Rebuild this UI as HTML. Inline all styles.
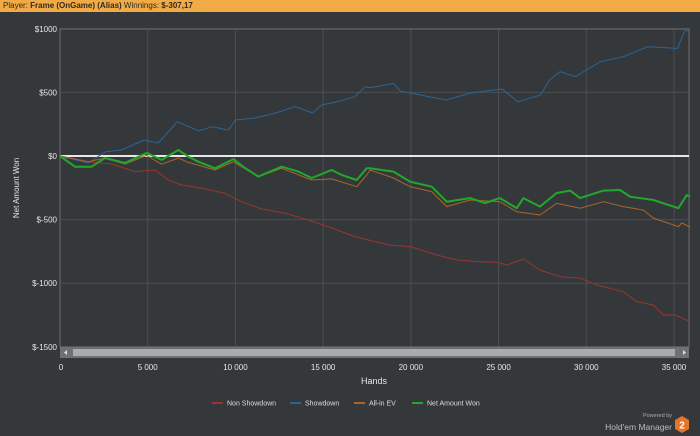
<!DOCTYPE html>
<html><head><meta charset="utf-8"><style>
body{margin:0;width:700px;height:436px;background:#35383b;overflow:hidden;font-family:"Liberation Sans",sans-serif}
#hdr{position:absolute;left:0;top:0;width:700px;height:12px;background:#f2aa44;font-size:8px;line-height:12px;color:#2a2a2a;padding-left:3px;box-sizing:border-box}
</style></head><body>
<div id="hdr">Player: <b>Frame (OnGame) (Alias)</b> Winnings: <b>$-307,17</b></div>
<svg id="c" width="700" height="436" style="position:absolute;left:0;top:0"></svg>
<script>
const yTicks=[1000,500,0,-500,-1000,-1500];
const yTickLabels=["$1000","$500","$0","$-500","$-1000","$-1500"];
const xTicks=[0,5000,10000,15000,20000,25000,30000,35000];
const xTickLabels=["0","5 000","10 000","15 000","20 000","25 000","30 000","35 000"];
const seriesNames=["Non Showdown","Showdown","All-in EV","Net Amount Won"];
const seriesColors=["#9a3430","#2a6494","#a8652c","#22a82a"];
const showdownHands=[0,1600,2600,3500,4800,5600,6700,7900,8700,9600,10000,11100,12300,13400,14400,14900,15800,16800,17400,17700,19000,19400,20500,22000,23400,25200,26100,27400,27900,28500,29400,30000,30800,32100,33500,35200,35600,35900];
const showdownVals=[0,-55,34,47,126,102,270,197,230,204,283,299,338,388,338,401,427,466,545,537,571,511,480,440,495,527,427,480,597,663,624,676,741,780,859,846,982,990];
const netHands=[0,855,1800,2565,3700,4940,5800,6745,7315,7885,8835,9880,10545,11305,12640,13590,14350,15490,16060,16915,17485,17673,19003,19954,21189,22044,23374,24229,25084,26034,26414,27364,28315,29075,29645,30975,31926,32496,33826,35251,35726,35916];
const netVals=[0,-84,-84,-16,-55,24,-31,47,-5,-45,-97,-24,-94,-162,-84,-123,-173,-110,-149,-189,-97,-97,-123,-202,-241,-359,-331,-370,-331,-410,-331,-398,-291,-272,-331,-272,-267,-320,-346,-410,-307,-320];
const allinHands=[0,1615,2565,3700,4940,5800,6745,7315,8835,9880,11305,12640,14350,15490,16915,17485,17673,19003,19954,21189,22044,23374,25084,26034,27364,28315,29645,30975,32116,33256,33826,35251,35441,35916];
const allinVals=[0,-45,-16,-63,5,-65,-16,-50,-110,-45,-162,-97,-189,-180,-241,-149,-110,-173,-241,-280,-398,-346,-359,-438,-464,-372,-410,-359,-398,-425,-488,-555,-527,-558];
const nonsdHands=[0,1615,2945,4275,5415,6175,6935,8075,9405,10360,11500,12830,14160,15490,16820,17960,18813,19954,21474,22614,23944,24894,25464,26414,27364,28505,29645,30595,32116,32876,33826,34396,35061,35916];
const nonsdVals=[0,-45,-63,-123,-110,-189,-228,-254,-293,-359,-417,-450,-503,-566,-634,-673,-700,-713,-778,-817,-831,-836,-857,-810,-896,-949,-960,-1014,-1067,-1145,-1171,-1250,-1250,-1302];

const L=60,R=689,T=29,B=347;
const xs=h=>L+h*(674-L)/35000;
const ys=v=>156+(0-v)*(B-T)/2500;
const svg=document.getElementById('c');const NS='http://www.w3.org/2000/svg';
function mk(t,a,p){const e=document.createElementNS(NS,t);for(const k in a)e.setAttribute(k,a[k]);(p||svg).appendChild(e);return e;}
yTicks.forEach((v,i)=>{
 const g=mk('line',{x1:L,x2:R,y1:ys(v),y2:ys(v),stroke:'#4b4e52','stroke-width':1});
 
 
 const t=mk('text',{x:57,y:ys(v)+3,'text-anchor':'end','font-size':8,fill:'#e6e6e6'});t.textContent=yTickLabels[i];
 
 
});
xTicks.forEach((h,i)=>{
 const g=mk('line',{x1:xs(h),x2:xs(h),y1:T,y2:B,stroke:'#4b4e52','stroke-width':1});
 
 
 const t=mk('text',{x:xs(h)+(i==0?1:0),y:370,'text-anchor':'middle','font-size':8,fill:'#e6e6e6'});t.textContent=xTickLabels[i];
 
 
});
const fr=mk('rect',{x:L,y:T,width:R-L,height:B-T,fill:'none',stroke:'#6a6d70','stroke-width':1});


const z=mk('line',{x1:L,x2:R,y1:ys(0),y2:ys(0),stroke:'#e8e8e8','stroke-width':2});


const sets=[[nonsdHands,nonsdVals],[showdownHands,showdownVals],[allinHands,allinVals],[netHands,netVals]];
const names=['line-non-showdown','line-showdown','line-allin-ev','line-net-won'];
sets.forEach((s,i)=>{
 const d=s[0].map((h,j)=>(j?'L':'M')+xs(h).toFixed(1)+','+ys(s[1][j]).toFixed(1)).join(' ');
 const p=mk('path',{d:d,fill:'none',stroke:seriesColors[i],'stroke-width':i==3?2:1,'stroke-linejoin':'round'});
 
 
});
const sb=mk('rect',{x:L,y:347,width:R-L,height:11,fill:'#6e7073'});


const th=mk('rect',{x:L+13,y:349,width:R-L-27,height:7,fill:'#a9abad'});


const la=mk('path',{d:'M64,352.5 L67,350 L67,355Z',fill:'#ddd'});


const ra=mk('path',{d:'M686,352.5 L683,350 L683,355Z',fill:'#ddd'});


const xt=mk('text',{x:374,y:384,'text-anchor':'middle','font-size':9,fill:'#e6e6e6'});xt.textContent='Hands';


const yt=mk('text',{x:0,y:0,'text-anchor':'middle','font-size':8,fill:'#e6e6e6',transform:'translate(19,188) rotate(-90)'});yt.textContent='Net Amount Won';


const lx=[212,290,354,412];
seriesNames.forEach((n,i)=>{
 const g=mk('g',{});
 
 
 mk('line',{x1:lx[i],x2:lx[i]+11,y1:403,y2:403,stroke:seriesColors[i],'stroke-width':2},g);
 const t=mk('text',{x:lx[i]+15,y:405.5,'font-size':7,fill:'#dcdcdc'},g);t.textContent=n;
});
const p1=mk('text',{x:672,y:417,'text-anchor':'end','font-size':5.5,fill:'#aaa'});p1.textContent='Powered by';


const p2=mk('text',{x:672,y:430,'text-anchor':'end','font-size':8.5,fill:'#bbb'});p2.textContent="Hold'em Manager";


const hx=mk('path',{d:'M682,416 L689,420 L689,429 L682,433 L675,429 L675,420Z',fill:'#e4742a'});


const h2=mk('text',{x:682,y:428.5,'text-anchor':'middle','font-size':10,'font-weight':'bold',fill:'#fff'});h2.textContent='2';


</script>
</body></html>
